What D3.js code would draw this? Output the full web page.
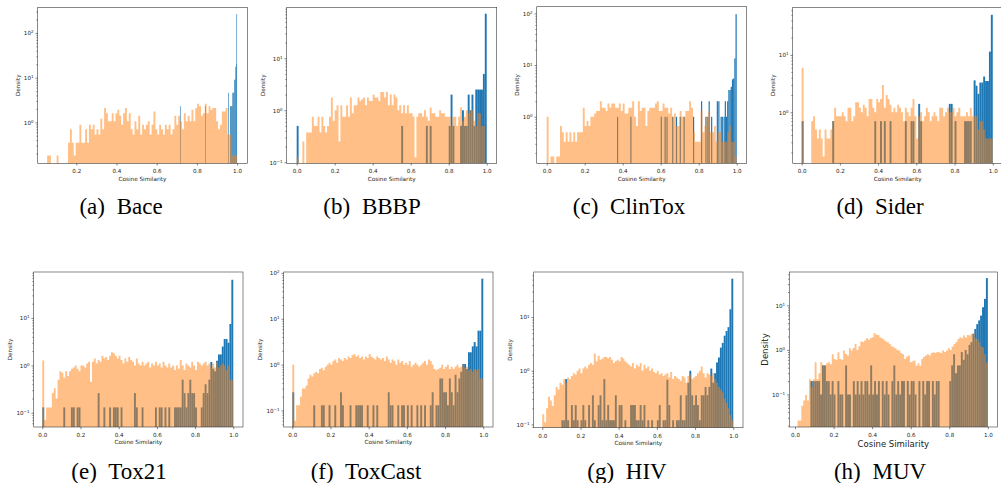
<!DOCTYPE html>
<html>
<head>
<meta charset="utf-8">
<script src="https://cdn.jsdelivr.net/npm/d3@7"></script>
<style>
body { margin: 0; background: #fff; }
svg { display: block; }
</style>
</head>
<body>
<svg id="fig" width="1001" height="483"></svg>
<script>
const LETTERS = ["a", "b", "c", "d", "e", "f", "g", "h"];
const DATASETS = ["Bace", "BBBP", "ClinTox", "Sider", "Tox21", "ToxCast", "HIV", "MUV"];
const X_TICKS = [0, 0.2, 0.4, 0.6, 0.8, 1.0];
const X_LABEL = "Cosine Similarity";
const Y_LABEL = "Density";

// orange histograms: densities of equal-width bins between lo and hi
const ORANGE_RANGE = [[0.055, 1], [0, 1], [0, 1], [0, 1], [0, 1], [0, 1], [0, 1], [0.013, 1]];

const ORANGE_BACE = [0.18,0.18,0,0,0,0.18,0,0,0,0, 0,0.35,0.7,0.35,0.18,0.35,0.35,0.88,0.35,0.35,
    0.7,0.35,0.88,0.7,0.88,0.53,0.7,0.53,1.2,0.7, 2.1,1.6,1.05,1.05,1.6,1.05,1.6,1.9,1.4,0.88,
    1.6,2.1,1.05,1.6,0.7,0.53,1.05,0.7,1.4,0.53, 0.88,0.7,0.88,1.05,0.53,0.88,1.75,0.7,0.53,0.88,
    0.7,0.53,0.88,0.7,0.88,0.53,0.7,1.4,0.88,1.4, 1.05,0.7,1.6,1.05,1.4,1.05,1.9,1.05,2.1,2.6,
    2.3,1.4,1.6,2.6,1.6,2.3,1.9,2.1,2.1,1.05, 0.7,0.88,1.75,1.75,2.1,0.53,0.53,0.18,0.18,0.18];

const ORANGE_BBBP = [0.125,0,0,0.25,0,0.375,0.375,0.375,0.75,0.5, 0.5,0.75,0.375,0.75,0.5,0.375,0.5,0.75,1.75,0.625,
    1.0,1.25,0.25,1.25,0.75,0.75,1.25,0.75,1.75,0.875, 1.25,1.25,1.75,1.5,1.625,1.75,1.25,1.75,1.5,1.5,
    2.0,1.75,1.75,1.5,2.25,2.25,1.75,2.25,1.25,2.0, 1.25,2.0,1.75,1.0,1.25,0.875,1.25,0.875,1.25,0.875,
    0.875,0.75,0.125,0.75,0.875,0.875,0.75,1.0,0.75,0.625, 1.125,0.875,0.875,0.75,0.75,1.0,0.875,0.875,0.75,0.75,
    0.75,0.5,0.75,0.75,0.5,0.75,1.125,0.625,0.75,1.0, 0.875,1.0,1.0,0.625,0.5,0.875,0.875,0.5,0.5,0];

const ORANGE_CLINTOX = [1.0,0,0.17,0.17,0,0.17,0.17,0.66,0.5,0.33, 0.5,0.33,0.5,0.33,0.5,0.33,0.5,0.5,0.5,1.5,
    0.66,0.83,0.66,1.0,1.0,1.16,1.3,1.3,2.0,1.5, 1.5,1.3,1.8,1.5,1.8,1.8,1.5,1.5,1.8,1.3,
    1.8,1.16,1.16,1.5,1.5,2.0,1.0,0.66,2.0,1.3, 1.5,1.5,0.66,1.3,1.5,1.5,1.5,1.8,2.0,1.3,
    1.3,1.8,1.5,1.5,1.16,1.5,1.0,1.16,0.66,0.66, 1.3,1.0,1.0,1.3,1.3,2.0,1.5,0.5,0.33,0.33,
    0.33,1.3,0.5,0.66,1.0,1.3,0.5,0.5,0.66,0.33, 0.5,0.5,0.33,0.33,0.33,0.5,0.66,0.33,0.33,0.17];

const ORANGE_SIDER = [6.0,0,0,0,0,0.7,0.85,0.5,0.35,0.5, 0.35,0.17,0.5,0.35,0.35,0.5,0.7,1.2,0.85,0.85,
    0.85,1.0,0.85,0.7,1.2,1.2,0.7,0.85,1.5,1.5, 1.2,1.0,1.35,1.2,0.85,1.7,1.7,1.2,1.0,1.7,
    1.5,1.7,3.0,1.2,2.0,1.7,1.35,1.0,1.2,1.0, 1.35,1.2,1.0,0.7,1.2,1.0,0.85,1.2,1.7,0.85,
    0.35,0.85,1.0,0.7,0.85,1.2,1.0,0.7,0.85,1.0, 0.85,0.7,1.2,1.2,0.85,1.0,1.2,1.0,1.0,1.2,
    0.85,1.0,1.2,0.85,0.85,0.85,1.0,0.85,1.2,0.85, 0.85,0.85,0.5,0.7,0.7,0.5,0.35,0.35,0.35,0.35];

const ORANGE_TOX21 = [1.27,0.07,0.13,0.13,0.13,0.26,0.33,0.2,0.5,0.75, 0.7,0.55,0.75,0.6,0.75,0.85,0.9,1.0,0.85,0.75,
    1.0,1.0,0.9,1.1,1.2,0.45,1.2,1.4,1.1,1.3, 1.2,1.6,1.4,1.5,1.3,1.6,1.9,1.8,1.6,1.4,
    1.6,1.3,1.1,1.4,1.2,1.5,1.3,1.2,1.0,1.4, 1.1,1.0,1.2,1.0,1.1,1.2,0.9,1.1,1.0,1.2,
    1.0,1.1,0.9,1.2,1.0,0.9,1.1,0.9,1.0,0.8, 1.0,0.85,1.3,1.0,0.8,1.1,1.0,0.9,1.2,1.0,
    0.8,1.2,1.1,1.0,1.1,1.2,1.0,1.1,0.9,1.1, 0.9,1.2,0.9,1.0,1.1,1.0,0.8,1.0,0.5,0.5];

const ORANGE_TOXCAST = [1.0,0.06,0.13,0.13,0.2,0.3,0.3,0.35,0.5,0.6, 0.55,0.65,0.7,0.65,0.8,0.85,0.75,0.9,1.0,1.1,
    1.0,1.2,1.3,1.1,1.4,1.3,1.2,1.4,1.3,1.5, 1.4,1.6,1.7,1.5,1.6,1.4,1.5,1.3,1.5,1.4,
    1.7,1.5,1.4,1.3,1.5,1.4,1.3,1.4,1.2,1.5, 1.3,1.1,1.3,1.2,1.0,1.3,1.1,1.2,1.0,1.1,
    1.0,1.2,0.9,1.0,1.1,1.0,0.9,1.0,1.1,1.2, 1.0,1.3,1.2,1.0,0.8,0.75,0.8,0.85,1.0,0.8,
    0.9,1.0,0.8,0.9,0.8,0.9,1.0,0.85,0.9,1.0, 0.85,0.9,0.75,0.8,0.7,0.8,0.75,0.8,0.5,0.5];

const ORANGE_HIV = [0.155,0.11,0.2,0.33,0.28,0.22,0.35,0.5,0.45,0.6, 0.55,0.7,0.6,0.75,0.7,0.8,0.9,0.85,1.0,1.1,
    0.9,1.1,1.2,1.1,1.3,1.4,1.3,2.1,1.5,1.9, 1.6,1.7,1.8,1.8,1.7,1.8,1.6,1.4,1.5,1.6,
    1.5,1.8,1.7,1.5,1.4,1.3,1.2,1.4,1.1,1.3, 1.2,1.4,1.0,1.3,1.1,1.2,1.0,1.1,0.95,0.9,
    1.0,0.85,0.9,0.8,0.85,0.9,0.75,0.95,0.7,0.8, 0.75,0.7,0.65,0.8,0.75,0.6,0.8,0.85,0.7,0.75,
    0.8,0.9,1.0,1.2,0.9,0.75,0.9,0.85,0.8,0.9, 0.7,0.6,0.5,0.45,0.4,0.3,0.25,0.2,0.15,0.12];

const ORANGE_MUV = [0.026,0.026,0.056,0.073,0.097,0.073,0.22,0.145,0.22,0.53, 0.22,0.3,0.53,0.44,0.44,0.5,0.53,0.48,0.8,0.63,
    0.6,0.89,0.63,0.6,0.97,0.81,0.75,1.09,0.97,1.1, 1.36,1.0,1.21,1.54,1.5,1.62,1.83,1.7,1.83,1.93,
    2.37,2.2,2.17,1.9,1.83,1.7,1.54,1.49,1.36,1.21, 1.15,1.09,1.0,0.97,0.85,0.8,0.63,0.7,0.75,0.53,
    0.55,0.58,0.44,0.5,0.44,0.63,0.7,0.75,0.8,0.75, 0.85,0.89,0.85,0.9,0.89,0.85,0.97,0.9,0.97,1.09,
    1.0,1.2,1.36,1.5,1.77,1.93,1.83,2.1,1.9,2.17, 2.1,2.29,2.37,1.8,1.77,1.5,1.21,1.15,0.8,0.53];

// blue histograms: [bin left edge, density], bins of the given width
const BLUE_WIDTH = [0.003, 0.01, 0.0063, 0.01, 0.01, 0.01, 0.01, 0.01];

const BLUE_BACE = [[0.716,2.3],[0.841,2.3],[0.956,4.6],[0.965,2.3],[0.968,2.3],[0.971,2.3],[0.974,2.3],
    [0.977,4.6],[0.980,4.6],[0.983,4.6],[0.986,9],[0.989,9],[0.992,17.5],[0.995,20],[0.997,265]];

const BLUE_BBBP = [[0.00,0.5],[0.55,0.5],[0.68,0.5],[0.70,0.5],[0.80,0.5],[0.81,2.0],[0.82,0.5],[0.86,0.5],
    [0.87,1.0],[0.88,0.5],[0.89,0.5],[0.90,2.0],[0.91,1.0],[0.92,2.0],[0.93,0.5],[0.94,2.5],[0.95,2.5],
    [0.96,2.5],[0.97,2.5],[0.98,5.0],[0.99,72]];

const BLUE_CLINTOX = [[0.370,1.0],[0.440,1.0],[0.600,1.0],[0.620,1.0],[0.630,1.0],[0.660,1.0],[0.680,1.0],
    [0.700,1.0],[0.720,1.0],[0.770,1.0],[0.812,2.0],[0.835,1.0],[0.845,1.0],[0.852,2.0],[0.865,1.0],
    [0.895,2.0],[0.903,2.0],[0.915,1.0],[0.921,1.0],[0.9307,1.0],[0.9370,2.0],[0.9433,1.0],[0.9496,2.0],
    [0.9559,3.3],[0.9622,3.3],[0.9685,3.8],[0.9748,5.3],[0.9811,5.5],[0.9874,13.5],[0.9937,97]];

const BLUE_SIDER = [[0.00,0.7],[0.16,0.7],[0.38,0.7],[0.41,0.7],[0.43,0.7],[0.46,0.7],[0.54,0.7],[0.57,0.7],
    [0.58,0.7],[0.61,1.4],[0.62,0.7],[0.77,1.4],[0.78,1.4],[0.80,0.7],[0.85,0.7],[0.86,0.7],[0.87,0.7],
    [0.88,0.7],[0.90,3.6],[0.91,2.9],[0.92,2.1],[0.93,3.3],[0.94,3.3],[0.95,4.2],[0.96,3.5],[0.97,3.5],
    [0.98,11.4],[0.99,50]];

const BLUE_TOX21 = [[0.00,0.13],[0.11,0.13],[0.15,0.13],[0.16,0.13],[0.18,0.13],[0.19,0.13],[0.29,0.26],
    [0.32,0.13],[0.35,0.13],[0.37,0.13],[0.38,0.13],[0.39,0.13],[0.41,0.13],[0.48,0.26],[0.49,0.13],
    [0.52,0.13],[0.59,0.13],[0.61,0.13],[0.62,0.13],[0.64,0.13],[0.66,0.13],[0.69,0.13],[0.70,0.13],
    [0.71,0.13],[0.72,0.13],[0.73,0.5],[0.74,0.26],[0.75,0.13],[0.76,0.26],[0.77,0.5],[0.78,0.26],
    [0.79,0.26],[0.80,0.13],[0.83,0.13],[0.84,0.26],[0.85,0.4],[0.86,0.26],[0.87,0.5],[0.88,1.18],
    [0.89,0.85],[0.90,0.75],[0.91,1.25],[0.92,1.7],[0.93,1.7],[0.94,2.5],[0.95,3.6],[0.96,3.6],
    [0.97,3.0],[0.98,7.5],[0.99,64]];

const BLUE_TOXCAST = [[0.00,0.25],[0.11,0.13],[0.15,0.13],[0.16,0.13],[0.19,0.13],[0.22,0.13],[0.25,0.25],
    [0.26,0.13],[0.30,0.13],[0.33,0.13],[0.34,0.13],[0.35,0.13],[0.36,0.13],[0.39,0.13],[0.42,0.13],
    [0.44,0.13],[0.50,0.25],[0.51,0.13],[0.52,0.13],[0.55,0.13],[0.57,0.13],[0.58,0.13],[0.60,0.13],
    [0.62,0.13],[0.65,0.13],[0.67,0.13],[0.69,0.13],[0.72,0.13],[0.73,0.25],[0.75,0.13],[0.76,0.13],
    [0.77,0.5],[0.78,0.5],[0.79,0.25],[0.80,0.25],[0.81,0.13],[0.82,0.5],[0.83,0.25],[0.84,0.13],
    [0.85,0.6],[0.86,0.25],[0.87,0.5],[0.88,0.7],[0.89,1.03],[0.90,1.03],[0.91,0.8],[0.92,1.86],
    [0.93,1.86],[0.94,2.5],[0.95,3.1],[0.96,2.5],[0.97,5.5],[0.98,5.5],[0.99,75]];

const BLUE_HIV = [[0.10,0.12],[0.11,0.12],[0.12,0.7],[0.13,0.12],[0.15,0.23],[0.16,0.12],[0.17,0.23],
    [0.18,0.12],[0.20,0.12],[0.21,0.23],[0.22,0.12],[0.24,0.23],[0.26,0.35],[0.27,0.12],[0.29,0.23],
    [0.30,0.35],[0.31,0.12],[0.32,0.7],[0.33,0.12],[0.34,0.23],[0.35,0.12],[0.36,0.12],[0.37,0.12],
    [0.38,0.35],[0.40,0.23],[0.41,0.23],[0.43,0.12],[0.46,0.23],[0.47,0.23],[0.48,0.23],[0.49,0.12],
    [0.50,0.12],[0.51,0.23],[0.52,0.12],[0.53,0.23],[0.55,0.12],[0.57,0.12],[0.60,0.12],[0.61,0.23],
    [0.63,0.12],[0.64,0.12],[0.65,0.68],[0.66,0.23],[0.68,0.12],[0.70,0.12],[0.71,0.12],[0.72,0.35],
    [0.73,0.12],[0.74,0.12],[0.75,0.35],[0.76,0.6],[0.77,1.0],[0.78,0.35],[0.79,0.23],[0.80,0.35],
    [0.81,0.23],[0.82,0.12],[0.83,0.35],[0.84,0.35],[0.85,0.5],[0.86,0.35],[0.87,0.5],[0.88,1.1],
    [0.89,0.6],[0.90,0.9],[0.91,1.43],[0.92,1.77],[0.93,2.7],[0.94,3.3],[0.95,4.5],[0.96,5.5],
    [0.97,6.5],[0.98,14],[0.99,52]];

const BLUE_MUV = [[0.08,0.2],[0.09,0.2],[0.10,0.2],[0.11,0.2],[0.12,0.2],[0.13,0.1],[0.14,0.45],[0.15,0.45],
    [0.16,0.2],[0.17,0.2],[0.18,0.1],[0.19,0.2],[0.20,0.1],[0.22,0.2],[0.23,0.1],[0.24,0.1],[0.26,0.45],
    [0.27,0.1],[0.28,0.1],[0.30,0.2],[0.31,0.1],[0.32,0.2],[0.33,0.1],[0.34,0.2],[0.35,0.1],[0.36,0.2],
    [0.37,0.2],[0.38,0.1],[0.39,0.45],[0.40,0.1],[0.41,0.2],[0.42,0.1],[0.43,0.2],[0.45,0.2],[0.46,0.1],
    [0.47,0.2],[0.48,0.1],[0.50,0.2],[0.51,0.45],[0.52,0.1],[0.53,0.2],[0.54,0.1],[0.55,0.2],[0.56,0.2],
    [0.58,0.2],[0.59,0.1],[0.60,0.2],[0.61,0.2],[0.62,0.1],[0.64,0.2],[0.66,0.2],[0.67,0.1],[0.68,0.2],
    [0.69,0.2],[0.71,0.2],[0.72,0.1],[0.73,0.2],[0.74,0.2],[0.80,0.2],[0.81,0.45],[0.82,0.8],[0.83,0.3],
    [0.84,0.45],[0.85,0.45],[0.86,0.9],[0.87,0.6],[0.88,1.0],[0.89,0.8],[0.90,1.3],[0.91,1.5],[0.92,2.3],
    [0.93,2.96],[0.94,3.8],[0.95,4.6],[0.96,5.9],[0.97,9.1],[0.98,14],[0.99,41]];

const ORANGE = [ORANGE_BACE, ORANGE_BBBP, ORANGE_CLINTOX, ORANGE_SIDER, ORANGE_TOX21, ORANGE_TOXCAST, ORANGE_HIV, ORANGE_MUV];
const BLUE = [BLUE_BACE, BLUE_BBBP, BLUE_CLINTOX, BLUE_SIDER, BLUE_TOX21, BLUE_TOXCAST, BLUE_HIV, BLUE_MUV];

// panel geometry (pixels) and axis limits (x linear, y as log10 exponents)
const LAYOUT = [
    { box: [37.7, 7.3, 247.3, 163.3], xdom: [0.008, 1.051], ydom: [-0.918, 2.575], ylabX: 18.3, capX: 121, capY: 214 },
    { box: [286.7, 7.3, 496.7, 163.3], xdom: [-0.0526, 1.0526], ydom: [-1.02, 1.98], ylabX: 262.7, capX: 372, capY: 214 },
    { box: [536.7, 6.7, 746.7, 163.3], xdom: [-0.0526, 1.0526], ydom: [-0.9, 2.13], ylabX: 516.7, capX: 629, capY: 214 },
    { box: [792.7, 7.3, 1002.7, 163.3], xdom: [-0.047, 1.052], ydom: [-0.89, 1.83], ylabX: 772.7, capX: 880, capY: 214 },
    { box: [33.7, 272, 243, 427], xdom: [-0.045, 1.051], ydom: [-1.30, 1.97], ylabX: 10, capX: 119, capY: 479 },
    { box: [283.7, 272, 493, 427], xdom: [-0.045, 1.051], ydom: [-1.36, 2.02], ylabX: 260, capX: 366, capY: 479 },
    { box: [533.7, 272, 743, 427.7], xdom: [-0.045, 1.051], ydom: [-1.06, 1.84], ylabX: 510, capX: 627, capY: 479 },
    { box: [789.3, 272, 997.3, 427], xdom: [-0.0296, 1.049], ydom: [-1.73, 1.75], ylabX: 765, capX: 880, capY: 479, big: true }
];

const svg = d3.select("#fig");
const TICK_FONT = 5.6;
const LABEL_FONT = 5.7;

LAYOUT.forEach((L, k) => drawPanel(k));

function supText(sel, e) {
    sel.text(null);
    sel.append("tspan").text("10");
    sel.append("tspan")
        .attr("dy", "-0.45em")
        .attr("font-size", "0.72em")
        .text(e < 0 ? "\u2212" + Math.abs(e) : String(e));
}

function drawPanel(k) {
    const L = LAYOUT[k];
    const [left, top, right, bottom] = L.box;

    const x = d3.scaleLinear()
        .domain(L.xdom)
        .range([left, right]);

    const y = d3.scaleLog()
        .domain(L.ydom.map(e => Math.pow(10, e)))
        .range([bottom, top]);

    const g = svg.append("g");

    g.append("clipPath")
        .attr("id", "clip" + k)
        .append("rect")
        .attr("x", left)
        .attr("y", top)
        .attr("width", right - left)
        .attr("height", bottom - top);

    const plot = g.append("g").attr("clip-path", `url(#clip${k})`);

    // blue bars first
    const bw = BLUE_WIDTH[k];
    plot.append("g")
        .selectAll("rect")
        .data(BLUE[k])
        .join("rect")
        .attr("x", d => x(d[0]))
        .attr("width", d => x(d[0] + bw) - x(d[0]))
        .attr("y", d => y(d[1]))
        .attr("height", d => bottom - y(d[1]))
        .attr("fill", "#1f77b4");

    // orange histogram as one step area, half transparent
    const [lo, hi] = ORANGE_RANGE[k];
    const vals = ORANGE[k];
    const w = (hi - lo) / vals.length;
    const steps = vals.map((v, i) => ({ x: lo + i * w, v }));
    steps.push({ x: hi, v: vals[vals.length - 1] });

    const area = d3.area()
        .curve(d3.curveStepAfter)
        .x(d => x(d.x))
        .y0(bottom + 1)
        .y1(d => d.v > 0 ? y(d.v) : bottom + 1);

    plot.append("path")
        .datum(steps)
        .attr("d", area)
        .attr("fill", "#ff7f0e")
        .attr("fill-opacity", 0.5);

    // axes
    const xt = X_TICKS.filter(t => t >= L.xdom[0] && t <= L.xdom[1]);
    const xAxis = d3.axisBottom(x)
        .tickValues(xt)
        .tickFormat(d3.format(".1f"))
        .tickSize(2.2)
        .tickPadding(3.8);

    const gx = g.append("g")
        .attr("transform", `translate(0,${bottom})`)
        .call(xAxis);
    gx.select(".domain").remove();

    const e0 = Math.ceil(L.ydom[0]);
    const e1 = Math.floor(L.ydom[1]);
    const majors = d3.range(e0, e1 + 1).map(e => Math.pow(10, e));
    const minors = [];
    d3.range(Math.floor(L.ydom[0]), Math.ceil(L.ydom[1]) + 1).forEach(e => {
        d3.range(2, 10).forEach(m => {
            const v = m * Math.pow(10, e);
            if (Math.log10(v) >= L.ydom[0] && Math.log10(v) <= L.ydom[1]) minors.push(v);
        });
    });

    const gyMinor = g.append("g")
        .attr("transform", `translate(${left},0)`)
        .call(d3.axisLeft(y).tickValues(minors).tickSize(1.3).tickFormat(""));
    gyMinor.select(".domain").remove();

    const gy = g.append("g")
        .attr("transform", `translate(${left},0)`)
        .call(d3.axisLeft(y).tickValues(majors).tickSize(2.2).tickPadding(2.0).tickFormat(""));
    gy.select(".domain").remove();
    gy.selectAll(".tick text").each(function (d) {
        supText(d3.select(this), Math.round(Math.log10(d)));
    });

    [gx, gy, gyMinor].forEach(a => {
        a.attr("font-family", "DejaVu Sans")
            .attr("font-size", TICK_FONT);
        a.selectAll("line").attr("stroke", "#333").attr("stroke-width", 0.6);
        a.selectAll("text").attr("fill", "#222");
    });

    // spines
    g.append("rect")
        .attr("x", left)
        .attr("y", top)
        .attr("width", right - left)
        .attr("height", bottom - top)
        .attr("fill", "none")
        .attr("stroke", "#3a3a3a")
        .attr("stroke-width", 0.6);

    const lf = L.big ? 8.5 : LABEL_FONT;

    g.append("text")
        .attr("x", (left + right) / 2)
        .attr("y", bottom + (L.big ? 19.5 : 17.3))
        .attr("text-anchor", "middle")
        .attr("font-family", "DejaVu Sans")
        .attr("font-size", lf)
        .attr("fill", "#222")
        .text(X_LABEL);

    g.append("text")
        .attr("transform", `translate(${L.ylabX},${(top + bottom) / 2}) rotate(-90)`)
        .attr("text-anchor", "middle")
        .attr("dominant-baseline", "central")
        .attr("font-family", "DejaVu Sans")
        .attr("font-size", lf)
        .attr("fill", "#222")
        .text(Y_LABEL);

    // caption
    const cap = svg.append("text")
        .attr("x", L.capX)
        .attr("y", L.capY)
        .attr("text-anchor", "middle")
        .attr("font-family", "Liberation Serif")
        .attr("font-size", 23)
        .attr("fill", "#000");
    cap.append("tspan").text(`(${LETTERS[k]})`);
    cap.append("tspan").attr("dx", 6).text(" " + DATASETS[k]);
}
</script>
</body>
</html>
